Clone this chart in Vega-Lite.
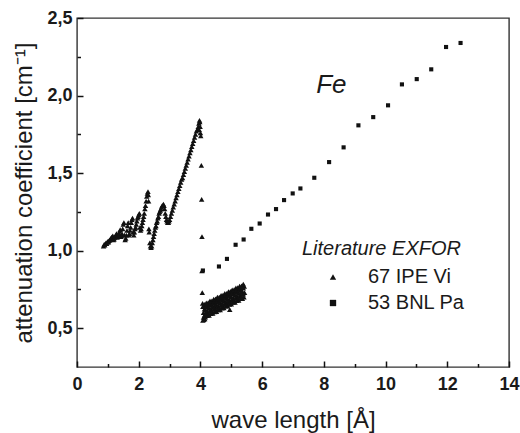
{
  "$schema": "https://vega.github.io/schema/vega-lite/v6.json",
  "width": 432,
  "height": 349,
  "autosize": {"type": "none"},
  "padding": {"left": 77, "top": 18, "right": 11, "bottom": 66},
  "background": "white",
  "config": {
    "view": {"stroke": "#333", "strokeWidth": 1.4},
    "font": "Liberation Sans",
    "axis": {"grid": false, "domain": false, "ticks": true, "tickColor": "#111", "tickWidth": 1.5, "tickOpacity": 1, "labelColor": "#1a1a1a", "titleColor": "#1a1a1a", "labelFont": "Liberation Sans", "titleFont": "Liberation Sans", "labelFontWeight": "bold", "titleFontWeight": "normal"}
  },
  "data": {"values": [
        {"x":0.86,"y":1.03,"s":"67 IPE Vi"},{"x":0.88,"y":1.04,"s":"67 IPE Vi"},{"x":0.90,"y":1.035,"s":"67 IPE Vi"},{"x":0.92,"y":1.045,"s":"67 IPE Vi"},{"x":0.94,"y":1.05,"s":"67 IPE Vi"},{"x":0.96,"y":1.045,"s":"67 IPE Vi"},{"x":0.98,"y":1.055,"s":"67 IPE Vi"},{"x":1.00,"y":1.06,"s":"67 IPE Vi"},{"x":1.02,"y":1.055,"s":"67 IPE Vi"},{"x":1.04,"y":1.065,"s":"67 IPE Vi"},{"x":1.06,"y":1.07,"s":"67 IPE Vi"},{"x":1.08,"y":1.075,"s":"67 IPE Vi"},{"x":1.10,"y":1.08,"s":"67 IPE Vi"},{"x":1.12,"y":1.085,"s":"67 IPE Vi"},{"x":1.14,"y":1.09,"s":"67 IPE Vi"},{"x":1.16,"y":1.095,"s":"67 IPE Vi"},{"x":1.18,"y":1.07,"s":"67 IPE Vi"},{"x":1.20,"y":1.075,"s":"67 IPE Vi"},{"x":1.22,"y":1.085,"s":"67 IPE Vi"},{"x":1.24,"y":1.09,"s":"67 IPE Vi"},{"x":1.26,"y":1.10,"s":"67 IPE Vi"},{"x":1.28,"y":1.11,"s":"67 IPE Vi"},{"x":1.30,"y":1.085,"s":"67 IPE Vi"},{"x":1.32,"y":1.09,"s":"67 IPE Vi"},{"x":1.34,"y":1.10,"s":"67 IPE Vi"},{"x":1.36,"y":1.11,"s":"67 IPE Vi"},{"x":1.38,"y":1.125,"s":"67 IPE Vi"},{"x":1.40,"y":1.135,"s":"67 IPE Vi"},{"x":1.42,"y":1.09,"s":"67 IPE Vi"},{"x":1.44,"y":1.095,"s":"67 IPE Vi"},{"x":1.46,"y":1.11,"s":"67 IPE Vi"},{"x":1.48,"y":1.14,"s":"67 IPE Vi"},{"x":1.50,"y":1.17,"s":"67 IPE Vi"},{"x":1.52,"y":1.18,"s":"67 IPE Vi"},{"x":1.54,"y":1.10,"s":"67 IPE Vi"},{"x":1.56,"y":1.07,"s":"67 IPE Vi"},{"x":1.58,"y":1.08,"s":"67 IPE Vi"},{"x":1.60,"y":1.10,"s":"67 IPE Vi"},{"x":1.62,"y":1.13,"s":"67 IPE Vi"},{"x":1.64,"y":1.16,"s":"67 IPE Vi"},{"x":1.66,"y":1.18,"s":"67 IPE Vi"},{"x":1.68,"y":1.10,"s":"67 IPE Vi"},{"x":1.70,"y":1.11,"s":"67 IPE Vi"},{"x":1.72,"y":1.13,"s":"67 IPE Vi"},{"x":1.74,"y":1.15,"s":"67 IPE Vi"},{"x":1.76,"y":1.18,"s":"67 IPE Vi"},{"x":1.78,"y":1.20,"s":"67 IPE Vi"},{"x":1.80,"y":1.21,"s":"67 IPE Vi"},{"x":1.82,"y":1.12,"s":"67 IPE Vi"},{"x":1.84,"y":1.10,"s":"67 IPE Vi"},{"x":1.86,"y":1.12,"s":"67 IPE Vi"},{"x":1.88,"y":1.14,"s":"67 IPE Vi"},{"x":1.90,"y":1.15,"s":"67 IPE Vi"},{"x":1.92,"y":1.17,"s":"67 IPE Vi"},{"x":1.94,"y":1.19,"s":"67 IPE Vi"},{"x":1.96,"y":1.21,"s":"67 IPE Vi"},{"x":1.98,"y":1.22,"s":"67 IPE Vi"},{"x":2.00,"y":1.23,"s":"67 IPE Vi"},{"x":2.02,"y":1.24,"s":"67 IPE Vi"},{"x":2.04,"y":1.15,"s":"67 IPE Vi"},{"x":2.06,"y":1.13,"s":"67 IPE Vi"},{"x":2.08,"y":1.14,"s":"67 IPE Vi"},{"x":2.10,"y":1.16,"s":"67 IPE Vi"},{"x":2.12,"y":1.18,"s":"67 IPE Vi"},{"x":2.14,"y":1.20,"s":"67 IPE Vi"},{"x":2.16,"y":1.22,"s":"67 IPE Vi"},{"x":2.18,"y":1.24,"s":"67 IPE Vi"},{"x":2.20,"y":1.27,"s":"67 IPE Vi"},{"x":2.22,"y":1.29,"s":"67 IPE Vi"},{"x":2.24,"y":1.32,"s":"67 IPE Vi"},{"x":2.26,"y":1.35,"s":"67 IPE Vi"},{"x":2.28,"y":1.37,"s":"67 IPE Vi"},{"x":2.30,"y":1.38,"s":"67 IPE Vi"},{"x":2.31,"y":1.36,"s":"67 IPE Vi"},{"x":2.32,"y":1.32,"s":"67 IPE Vi"},{"x":2.33,"y":1.14,"s":"67 IPE Vi"},{"x":2.34,"y":1.12,"s":"67 IPE Vi"},{"x":2.36,"y":1.05,"s":"67 IPE Vi"},{"x":2.38,"y":1.03,"s":"67 IPE Vi"},{"x":2.40,"y":1.02,"s":"67 IPE Vi"},{"x":2.42,"y":1.03,"s":"67 IPE Vi"},{"x":2.44,"y":1.05,"s":"67 IPE Vi"},{"x":2.46,"y":1.07,"s":"67 IPE Vi"},{"x":2.48,"y":1.09,"s":"67 IPE Vi"},{"x":2.50,"y":1.11,"s":"67 IPE Vi"},{"x":2.52,"y":1.13,"s":"67 IPE Vi"},{"x":2.54,"y":1.15,"s":"67 IPE Vi"},{"x":2.56,"y":1.16,"s":"67 IPE Vi"},{"x":2.58,"y":1.18,"s":"67 IPE Vi"},{"x":2.60,"y":1.19,"s":"67 IPE Vi"},{"x":2.62,"y":1.21,"s":"67 IPE Vi"},{"x":2.64,"y":1.22,"s":"67 IPE Vi"},{"x":2.66,"y":1.24,"s":"67 IPE Vi"},{"x":2.68,"y":1.25,"s":"67 IPE Vi"},{"x":2.70,"y":1.26,"s":"67 IPE Vi"},{"x":2.72,"y":1.27,"s":"67 IPE Vi"},{"x":2.74,"y":1.28,"s":"67 IPE Vi"},{"x":2.76,"y":1.29,"s":"67 IPE Vi"},{"x":2.78,"y":1.29,"s":"67 IPE Vi"},{"x":2.80,"y":1.30,"s":"67 IPE Vi"},{"x":2.82,"y":1.29,"s":"67 IPE Vi"},{"x":2.84,"y":1.27,"s":"67 IPE Vi"},{"x":2.86,"y":1.24,"s":"67 IPE Vi"},{"x":2.88,"y":1.22,"s":"67 IPE Vi"},{"x":2.90,"y":1.20,"s":"67 IPE Vi"},{"x":2.92,"y":1.19,"s":"67 IPE Vi"},{"x":2.94,"y":1.18,"s":"67 IPE Vi"},{"x":2.96,"y":1.18,"s":"67 IPE Vi"},{"x":2.98,"y":1.19,"s":"67 IPE Vi"},
        {"x":3.00,"y":1.20,"s":"67 IPE Vi"},{"x":3.03,"y":1.22,"s":"67 IPE Vi"},{"x":3.06,"y":1.24,"s":"67 IPE Vi"},{"x":3.09,"y":1.26,"s":"67 IPE Vi"},{"x":3.12,"y":1.28,"s":"67 IPE Vi"},{"x":3.15,"y":1.30,"s":"67 IPE Vi"},{"x":3.18,"y":1.32,"s":"67 IPE Vi"},{"x":3.21,"y":1.34,"s":"67 IPE Vi"},{"x":3.24,"y":1.36,"s":"67 IPE Vi"},{"x":3.27,"y":1.38,"s":"67 IPE Vi"},{"x":3.30,"y":1.40,"s":"67 IPE Vi"},{"x":3.33,"y":1.42,"s":"67 IPE Vi"},{"x":3.36,"y":1.44,"s":"67 IPE Vi"},{"x":3.39,"y":1.46,"s":"67 IPE Vi"},{"x":3.42,"y":1.47,"s":"67 IPE Vi"},{"x":3.45,"y":1.49,"s":"67 IPE Vi"},{"x":3.48,"y":1.51,"s":"67 IPE Vi"},{"x":3.51,"y":1.53,"s":"67 IPE Vi"},{"x":3.54,"y":1.55,"s":"67 IPE Vi"},{"x":3.57,"y":1.57,"s":"67 IPE Vi"},{"x":3.60,"y":1.59,"s":"67 IPE Vi"},{"x":3.63,"y":1.61,"s":"67 IPE Vi"},{"x":3.66,"y":1.63,"s":"67 IPE Vi"},{"x":3.69,"y":1.65,"s":"67 IPE Vi"},{"x":3.72,"y":1.67,"s":"67 IPE Vi"},{"x":3.75,"y":1.69,"s":"67 IPE Vi"},{"x":3.78,"y":1.71,"s":"67 IPE Vi"},{"x":3.81,"y":1.73,"s":"67 IPE Vi"},{"x":3.84,"y":1.75,"s":"67 IPE Vi"},{"x":3.87,"y":1.77,"s":"67 IPE Vi"},{"x":3.90,"y":1.78,"s":"67 IPE Vi"},{"x":3.93,"y":1.80,"s":"67 IPE Vi"},{"x":3.95,"y":1.82,"s":"67 IPE Vi"},{"x":3.97,"y":1.84,"s":"67 IPE Vi"},{"x":3.98,"y":1.83,"s":"67 IPE Vi"},{"x":3.99,"y":1.80,"s":"67 IPE Vi"},{"x":3.96,"y":1.78,"s":"67 IPE Vi"},{"x":4.00,"y":1.76,"s":"67 IPE Vi"},{"x":4.01,"y":1.74,"s":"67 IPE Vi"},
        {"x":4.03,"y":1.55,"s":"67 IPE Vi"},{"x":4.04,"y":1.33,"s":"67 IPE Vi"},{"x":4.05,"y":1.09,"s":"67 IPE Vi"},{"x":4.05,"y":0.87,"s":"67 IPE Vi"},{"x":4.06,"y":0.73,"s":"67 IPE Vi"},{"x":4.07,"y":0.66,"s":"67 IPE Vi"},{"x":4.08,"y":0.64,"s":"67 IPE Vi"},{"x":4.08,"y":0.55,"s":"67 IPE Vi"},{"x":4.11,"y":0.555,"s":"67 IPE Vi"},{"x":4.14,"y":0.56,"s":"67 IPE Vi"},{"x":4.95,"y":0.62,"s":"67 IPE Vi"},{"x":5.41,"y":0.70,"s":"67 IPE Vi"},{"x":5.43,"y":0.73,"s":"67 IPE Vi"},{"x":5.42,"y":0.77,"s":"67 IPE Vi"},
        {"x":4.10,"y":0.570,"s":"67 IPE Vi"},{"x":4.10,"y":0.600,"s":"67 IPE Vi"},{"x":4.10,"y":0.640,"s":"67 IPE Vi"},
        {"x":4.13,"y":0.583,"s":"67 IPE Vi"},{"x":4.13,"y":0.623,"s":"67 IPE Vi"},{"x":4.13,"y":0.653,"s":"67 IPE Vi"},
        {"x":4.16,"y":0.571,"s":"67 IPE Vi"},{"x":4.16,"y":0.616,"s":"67 IPE Vi"},{"x":4.16,"y":0.641,"s":"67 IPE Vi"},
        {"x":4.19,"y":0.599,"s":"67 IPE Vi"},{"x":4.19,"y":0.639,"s":"67 IPE Vi"},{"x":4.19,"y":0.664,"s":"67 IPE Vi"},
        {"x":4.22,"y":0.582,"s":"67 IPE Vi"},{"x":4.22,"y":0.612,"s":"67 IPE Vi"},{"x":4.22,"y":0.652,"s":"67 IPE Vi"},
        {"x":4.25,"y":0.595,"s":"67 IPE Vi"},{"x":4.25,"y":0.635,"s":"67 IPE Vi"},{"x":4.25,"y":0.665,"s":"67 IPE Vi"},
        {"x":4.28,"y":0.583,"s":"67 IPE Vi"},{"x":4.28,"y":0.628,"s":"67 IPE Vi"},{"x":4.28,"y":0.653,"s":"67 IPE Vi"},
        {"x":4.31,"y":0.611,"s":"67 IPE Vi"},{"x":4.31,"y":0.651,"s":"67 IPE Vi"},{"x":4.31,"y":0.676,"s":"67 IPE Vi"},
        {"x":4.34,"y":0.594,"s":"67 IPE Vi"},{"x":4.34,"y":0.624,"s":"67 IPE Vi"},{"x":4.34,"y":0.664,"s":"67 IPE Vi"},
        {"x":4.37,"y":0.607,"s":"67 IPE Vi"},{"x":4.37,"y":0.647,"s":"67 IPE Vi"},{"x":4.37,"y":0.677,"s":"67 IPE Vi"},
        {"x":4.40,"y":0.595,"s":"67 IPE Vi"},{"x":4.40,"y":0.640,"s":"67 IPE Vi"},{"x":4.40,"y":0.665,"s":"67 IPE Vi"},
        {"x":4.43,"y":0.623,"s":"67 IPE Vi"},{"x":4.43,"y":0.663,"s":"67 IPE Vi"},{"x":4.43,"y":0.688,"s":"67 IPE Vi"},
        {"x":4.46,"y":0.606,"s":"67 IPE Vi"},{"x":4.46,"y":0.636,"s":"67 IPE Vi"},{"x":4.46,"y":0.676,"s":"67 IPE Vi"},
        {"x":4.49,"y":0.619,"s":"67 IPE Vi"},{"x":4.49,"y":0.659,"s":"67 IPE Vi"},{"x":4.49,"y":0.689,"s":"67 IPE Vi"},
        {"x":4.52,"y":0.607,"s":"67 IPE Vi"},{"x":4.52,"y":0.652,"s":"67 IPE Vi"},{"x":4.52,"y":0.677,"s":"67 IPE Vi"},
        {"x":4.55,"y":0.635,"s":"67 IPE Vi"},{"x":4.55,"y":0.675,"s":"67 IPE Vi"},{"x":4.55,"y":0.700,"s":"67 IPE Vi"},
        {"x":4.58,"y":0.618,"s":"67 IPE Vi"},{"x":4.58,"y":0.648,"s":"67 IPE Vi"},{"x":4.58,"y":0.688,"s":"67 IPE Vi"},
        {"x":4.61,"y":0.631,"s":"67 IPE Vi"},{"x":4.61,"y":0.671,"s":"67 IPE Vi"},{"x":4.61,"y":0.701,"s":"67 IPE Vi"},
        {"x":4.64,"y":0.619,"s":"67 IPE Vi"},{"x":4.64,"y":0.664,"s":"67 IPE Vi"},{"x":4.64,"y":0.689,"s":"67 IPE Vi"},
        {"x":4.67,"y":0.647,"s":"67 IPE Vi"},{"x":4.67,"y":0.687,"s":"67 IPE Vi"},{"x":4.67,"y":0.712,"s":"67 IPE Vi"},
        {"x":4.70,"y":0.630,"s":"67 IPE Vi"},{"x":4.70,"y":0.660,"s":"67 IPE Vi"},{"x":4.70,"y":0.700,"s":"67 IPE Vi"},
        {"x":4.73,"y":0.643,"s":"67 IPE Vi"},{"x":4.73,"y":0.683,"s":"67 IPE Vi"},{"x":4.73,"y":0.713,"s":"67 IPE Vi"},
        {"x":4.76,"y":0.631,"s":"67 IPE Vi"},{"x":4.76,"y":0.676,"s":"67 IPE Vi"},{"x":4.76,"y":0.701,"s":"67 IPE Vi"},
        {"x":4.79,"y":0.659,"s":"67 IPE Vi"},{"x":4.79,"y":0.699,"s":"67 IPE Vi"},{"x":4.79,"y":0.724,"s":"67 IPE Vi"},
        {"x":4.82,"y":0.642,"s":"67 IPE Vi"},{"x":4.82,"y":0.672,"s":"67 IPE Vi"},{"x":4.82,"y":0.712,"s":"67 IPE Vi"},
        {"x":4.85,"y":0.655,"s":"67 IPE Vi"},{"x":4.85,"y":0.695,"s":"67 IPE Vi"},{"x":4.85,"y":0.725,"s":"67 IPE Vi"},
        {"x":4.88,"y":0.643,"s":"67 IPE Vi"},{"x":4.88,"y":0.688,"s":"67 IPE Vi"},{"x":4.88,"y":0.713,"s":"67 IPE Vi"},
        {"x":4.91,"y":0.671,"s":"67 IPE Vi"},{"x":4.91,"y":0.711,"s":"67 IPE Vi"},{"x":4.91,"y":0.736,"s":"67 IPE Vi"},
        {"x":4.94,"y":0.654,"s":"67 IPE Vi"},{"x":4.94,"y":0.684,"s":"67 IPE Vi"},{"x":4.94,"y":0.724,"s":"67 IPE Vi"},
        {"x":4.97,"y":0.667,"s":"67 IPE Vi"},{"x":4.97,"y":0.707,"s":"67 IPE Vi"},{"x":4.97,"y":0.737,"s":"67 IPE Vi"},
        {"x":5.00,"y":0.655,"s":"67 IPE Vi"},{"x":5.00,"y":0.700,"s":"67 IPE Vi"},{"x":5.00,"y":0.725,"s":"67 IPE Vi"},
        {"x":5.03,"y":0.683,"s":"67 IPE Vi"},{"x":5.03,"y":0.723,"s":"67 IPE Vi"},{"x":5.03,"y":0.748,"s":"67 IPE Vi"},
        {"x":5.06,"y":0.666,"s":"67 IPE Vi"},{"x":5.06,"y":0.696,"s":"67 IPE Vi"},{"x":5.06,"y":0.736,"s":"67 IPE Vi"},
        {"x":5.09,"y":0.679,"s":"67 IPE Vi"},{"x":5.09,"y":0.719,"s":"67 IPE Vi"},{"x":5.09,"y":0.749,"s":"67 IPE Vi"},
        {"x":5.12,"y":0.667,"s":"67 IPE Vi"},{"x":5.12,"y":0.712,"s":"67 IPE Vi"},{"x":5.12,"y":0.737,"s":"67 IPE Vi"},
        {"x":5.15,"y":0.695,"s":"67 IPE Vi"},{"x":5.15,"y":0.735,"s":"67 IPE Vi"},{"x":5.15,"y":0.760,"s":"67 IPE Vi"},
        {"x":5.18,"y":0.678,"s":"67 IPE Vi"},{"x":5.18,"y":0.708,"s":"67 IPE Vi"},{"x":5.18,"y":0.748,"s":"67 IPE Vi"},
        {"x":5.21,"y":0.691,"s":"67 IPE Vi"},{"x":5.21,"y":0.731,"s":"67 IPE Vi"},{"x":5.21,"y":0.761,"s":"67 IPE Vi"},
        {"x":5.24,"y":0.679,"s":"67 IPE Vi"},{"x":5.24,"y":0.724,"s":"67 IPE Vi"},{"x":5.24,"y":0.749,"s":"67 IPE Vi"},
        {"x":5.27,"y":0.707,"s":"67 IPE Vi"},{"x":5.27,"y":0.747,"s":"67 IPE Vi"},{"x":5.27,"y":0.772,"s":"67 IPE Vi"},
        {"x":5.30,"y":0.690,"s":"67 IPE Vi"},{"x":5.30,"y":0.720,"s":"67 IPE Vi"},{"x":5.30,"y":0.760,"s":"67 IPE Vi"},
        {"x":5.33,"y":0.703,"s":"67 IPE Vi"},{"x":5.33,"y":0.743,"s":"67 IPE Vi"},{"x":5.33,"y":0.773,"s":"67 IPE Vi"},
        {"x":5.36,"y":0.691,"s":"67 IPE Vi"},{"x":5.36,"y":0.736,"s":"67 IPE Vi"},{"x":5.36,"y":0.761,"s":"67 IPE Vi"},
        {"x":5.39,"y":0.719,"s":"67 IPE Vi"},{"x":5.39,"y":0.759,"s":"67 IPE Vi"},{"x":5.39,"y":0.784,"s":"67 IPE Vi"},
        {"x":4.08,"y":0.872,"s":"53 BNL Pa"},{"x":4.60,"y":0.898,"s":"53 BNL Pa"},{"x":4.86,"y":0.947,"s":"53 BNL Pa"},{"x":5.14,"y":1.038,"s":"53 BNL Pa"},{"x":5.40,"y":1.072,"s":"53 BNL Pa"},{"x":5.65,"y":1.141,"s":"53 BNL Pa"},{"x":5.92,"y":1.175,"s":"53 BNL Pa"},{"x":6.19,"y":1.233,"s":"53 BNL Pa"},{"x":6.45,"y":1.268,"s":"53 BNL Pa"},{"x":6.71,"y":1.326,"s":"53 BNL Pa"},{"x":6.99,"y":1.369,"s":"53 BNL Pa"},{"x":7.24,"y":1.401,"s":"53 BNL Pa"},{"x":7.69,"y":1.470,"s":"53 BNL Pa"},{"x":8.17,"y":1.571,"s":"53 BNL Pa"},{"x":8.64,"y":1.666,"s":"53 BNL Pa"},{"x":9.12,"y":1.808,"s":"53 BNL Pa"},{"x":9.60,"y":1.861,"s":"53 BNL Pa"},{"x":10.08,"y":1.937,"s":"53 BNL Pa"},{"x":10.53,"y":2.072,"s":"53 BNL Pa"},{"x":11.01,"y":2.106,"s":"53 BNL Pa"},{"x":11.48,"y":2.169,"s":"53 BNL Pa"},{"x":11.96,"y":2.313,"s":"53 BNL Pa"},{"x":12.43,"y":2.339,"s":"53 BNL Pa"}
  ]},
  "resolve": {"axis": {"x": "independent", "y": "independent"}},
  "layer": [
    {
      "transform": [{"filter": "datum.s == '67 IPE Vi'"}],
      "mark": {"type": "point", "filled": true, "size": 30, "color": "#111", "opacity": 1, "strokeWidth": 0},
      "encoding": {
        "x": {"field": "x", "type": "quantitative", "scale": {"domain": [0, 14], "nice": false, "zero": false},
          "axis": {"orient": "bottom", "values": [0,2,4,6,8,10,12,14], "title": "wave length [Å]", "titleFontSize": 24, "titlePadding": 15, "labelFontSize": 18, "labelPadding": 14, "tickSize": -6, "labelFlush": false, "labelOverlap": false}},
        "y": {"field": "y", "type": "quantitative", "scale": {"domain": [0.25, 2.5], "nice": false, "zero": false},
          "axis": {"orient": "left", "values": [0.5,1,1.5,2,2.5], "title": "attenuation coefficient [cm⁻¹]", "titleFontSize": 24, "titlePadding": 10, "labelFontSize": 18, "labelPadding": 11, "tickSize": -6, "labelExpr": "replace(format(datum.value, '.1f'), '.', ',')", "labelFlush": false, "labelOverlap": false}},
        "shape": {"field": "s", "type": "nominal", "scale": {"domain": ["67 IPE Vi", "53 BNL Pa"], "range": ["triangle-up", "square"]},
          "legend": {"orient": "none", "legendX": 225, "legendY": 221, "title": "Literature EXFOR", "titleFont": "Liberation Sans", "titleFontStyle": "italic", "titleFontWeight": "normal", "titleFontSize": 20, "titleColor": "#1a1a1a", "titlePadding": 8, "labelFont": "Liberation Sans", "labelFontSize": 20, "labelColor": "#1a1a1a", "symbolOffset": 21, "labelOffset": 25, "rowPadding": 6, "padding": 0, "symbolSize": 40, "symbolFillColor": "#111", "symbolStrokeWidth": 0}}
      }
    },
    {
      "transform": [{"filter": "datum.s == '53 BNL Pa'"}],
      "mark": {"type": "point", "filled": true, "size": 17, "color": "#111", "opacity": 1, "strokeWidth": 0},
      "encoding": {
        "x": {"field": "x", "type": "quantitative", "axis": {"orient": "bottom", "values": [1,3,5,7,9,11,13], "tickSize": -3.5, "labels": false, "title": null}},
        "y": {"field": "y", "type": "quantitative", "axis": {"orient": "left", "values": [0.75,1.25,1.75,2.25], "tickSize": -3.5, "labels": false, "title": null}},
        "shape": {"field": "s", "type": "nominal"}
      }
    },
    {
      "data": {"values": [{"x": 7.75, "y": 2.07, "t": "Fe"}]},
      "mark": {"type": "text", "font": "Liberation Sans", "fontStyle": "italic", "fontSize": 26, "align": "left", "baseline": "middle", "color": "#1a1a1a"},
      "encoding": {
        "x": {"field": "x", "type": "quantitative", "axis": null},
        "y": {"field": "y", "type": "quantitative", "axis": null},
        "text": {"field": "t"}
      }
    }
  ]
}
